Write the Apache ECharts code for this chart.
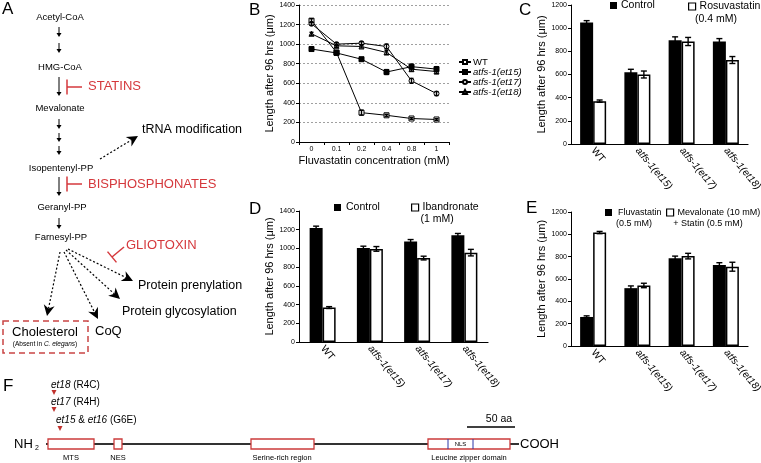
<!DOCTYPE html>
<html><head><meta charset="utf-8">
<script src="https://cdn.jsdelivr.net/npm/echarts@6/dist/echarts.min.js"></script>
<style>html,body{margin:0;padding:0;background:#fff}#c{width:761px;height:463px}</style>
</head><body><div id="c"></div>
<script>
const FONT = '"Liberation Sans", Arial, Helvetica, sans-serif';
const RED = '#d5383c';

// ---- Panel B (line chart) ----
const concentrations = ['0', '0.1', '0.2', '0.4', '0.8', '1'];
const bNames = ['WT', 'atfs-1(et15)', 'atfs-1(et17)', 'atfs-1(et18)'];
const lineWT   = [1240, 915, 300, 273, 240, 230];
const lineEt15 = [950, 910, 846, 715, 770, 745];
const lineEt17 = [1208, 1000, 1010, 976, 625, 495];
const lineEt18 = [1106, 983, 976, 915, 744, 720];
const errWT   = [20, 15, 25, 10, 8, 8];
const errEt15 = [15, 15, 15, 25, 25, 25];
const errEt17 = [15, 15, 15, 25, 25, 20];
const errEt18 = [15, 15, 15, 20, 20, 20];
const bTicks = [0, 1400, 200];

// ---- Bar panels ----
const strains = ['WT', 'atfs-1(et15)', 'atfs-1(et17)', 'atfs-1(et18)'];
const cControl = [1050, 620, 895, 885];
const cControlErr = [15, 25, 30, 25];
const cRosu = [370, 600, 885, 725];
const cRosuErr = [10, 30, 35, 30];
const cTicks = [0, 1200, 200];

const dControl = [1218, 1004, 1075, 1140];
const dControlErr = [20, 20, 20, 20];
const dIban = [368, 995, 897, 955];
const dIbanErr = [10, 25, 20, 35];
const dTicks = [0, 1400, 200];

const eFluva = [260, 518, 785, 726];
const eFluvaErr = [10, 20, 20, 20];
const eMeva = [1016, 542, 805, 710];
const eMevaErr = [10, 20, 25, 40];
const eTicks = [0, 1200, 200];

const yTitle = 'Length after 96 hrs (\u03bcm)';

function yAxisCfg(gi, t, gap, grid) {
  return {
    type: 'value', gridIndex: gi, min: t[0], max: t[1], interval: t[2],
    name: yTitle, nameLocation: 'middle', nameGap: gap, nameRotate: 90,
    nameTextStyle: { fontFamily: FONT, fontSize: 11, color: '#000' },
    axisLine: { show: true, lineStyle: { color: '#000', width: 1 } },
    axisTick: { show: true, length: 3, lineStyle: { color: '#000' } },
    axisLabel: { fontFamily: FONT, fontSize: 7, color: '#000', margin: 4, formatter: v => String(v) },
    splitLine: grid ? { show: true, lineStyle: { color: '#888', type: [2, 2], width: 0.8 } } : { show: false }
  };
}
function xBarAxis(gi) {
  return {
    type: 'category', gridIndex: gi, data: strains,
    axisLine: { lineStyle: { color: '#000', width: 1.2 } },
    axisTick: { show: false },
    axisLabel: {
      fontFamily: FONT, fontSize: 10, color: '#000', rotate: -50, margin: 5, interval: 0,
      formatter: v => v === 'WT' ? v : '{i|' + v + '}',
      rich: { i: { fontStyle: 'italic', fontFamily: FONT, fontSize: 10, color: '#000' } }
    }
  };
}
function errSeries(ai, vals, errs, off, capW) {
  return {
    type: 'custom', xAxisIndex: ai, yAxisIndex: ai, z: 10, silent: true,
    data: vals.map((v, i) => [i, v, errs[i]]),
    renderItem(params, api) {
      const i = api.value(0), v = api.value(1), e = api.value(2);
      const p1 = api.coord([i, v + e]), p2 = api.coord([i, v - e]);
      const x = p1[0] + off;
      const st = { stroke: '#000', lineWidth: 1.4 };
      return { type: 'group', children: [
        { type: 'line', shape: { x1: x, y1: p1[1], x2: x, y2: p2[1] }, style: st },
        { type: 'line', shape: { x1: x - capW, y1: p1[1], x2: x + capW, y2: p1[1] }, style: st },
        { type: 'line', shape: { x1: x - capW, y1: p2[1], x2: x + capW, y2: p2[1] }, style: st }
      ] };
    }
  };
}
function barSeries(name, ai, vals, white) {
  return {
    type: 'bar', name, xAxisIndex: ai, yAxisIndex: ai, data: vals,
    barWidth: 13, barGap: '0%',
    itemStyle: white ? { color: '#fff', borderColor: '#000', borderWidth: 1.5 } : { color: '#000' }
  };
}
function lineSeries(name, vals, symbol, fill) {
  return {
    type: 'line', name, xAxisIndex: 0, yAxisIndex: 0, data: vals,
    symbol, symbolSize: 5, showSymbol: true,
    lineStyle: { color: '#000', width: 1 },
    itemStyle: { color: fill, borderColor: '#000', borderWidth: 1 }
  };
}
function legendCfg(names, left, top, fs, pad) {
  return {
    data: names, left, top, orient: 'horizontal', icon: 'rect',
    itemWidth: 7, itemHeight: 7, itemGap: 4, padding: 0,
    itemStyle: { borderWidth: 1.2 },
    textStyle: { fontFamily: FONT, fontSize: fs, color: '#000', padding: [0, 0, 0, pad] },
    selectedMode: false
  };
}

// ---- graphic helpers (diagram panels A and F) ----
function T(x, y, s, fs, o) {
  o = o || {};
  return { type: 'text', x, y, silent: true, style: Object.assign({
    text: s, fontSize: fs, fontFamily: FONT, fill: o.fill || '#000',
    align: o.align || 'center', verticalAlign: o.va || 'middle',
    fontStyle: o.italic ? 'italic' : 'normal'
  }, o.rich ? { rich: o.rich } : {}) };
}
function L(x1, y1, x2, y2, o) {
  o = o || {};
  return { type: 'line', silent: true, shape: { x1, y1, x2, y2 },
    style: { stroke: o.stroke || '#000', lineWidth: o.lw || 1, lineDash: o.dash || null } };
}
function P(points, fill) {
  return { type: 'polygon', silent: true, shape: { points }, style: { fill: fill || '#000' } };
}
function R(x, y, w, h, o) {
  o = o || {};
  return { type: 'rect', silent: true, shape: { x, y, width: w, height: h },
    style: { fill: o.fill || '#fff', stroke: o.stroke || '#000', lineWidth: o.lw || 1, lineDash: o.dash || null } };
}
function arrow(x1, y1, x2, y2, o) {
  o = o || {};
  const hl = o.hl || 4, hw = o.hw || 2.5, notch = o.notch || 0;
  const dx = x2 - x1, dy = y2 - y1, len = Math.hypot(dx, dy);
  const ux = dx / len, uy = dy / len, px = -uy, py = ux;
  const bx = x2 - ux * hl, by = y2 - uy * hl;
  const nx = x2 - ux * hl * (1 - notch), ny = y2 - uy * hl * (1 - notch);
  return [
    L(x1, y1, nx, ny, { dash: o.dash, lw: o.lw || 1 }),
    P([[x2, y2], [bx + px * hw, by + py * hw], [nx, ny], [bx - px * hw, by - py * hw]])
  ];
}
function inhibit(x1, y1, x2, y2, h) {
  const dx = x2 - x1, dy = y2 - y1, len = Math.hypot(dx, dy);
  const px = -dy / len, py = dx / len;
  return [L(x1, y1, x2, y2, { stroke: RED, lw: 1.5 }),
          L(x2 + px * h, y2 + py * h, x2 - px * h, y2 - py * h, { stroke: RED, lw: 1.5 })];
}

const g = [];
// Panel letters
g.push(T(2, 9, 'A', 17, { align: 'left' }));
g.push(T(249, 10, 'B', 17, { align: 'left' }));
g.push(T(519, 10, 'C', 17, { align: 'left' }));
g.push(T(249, 209, 'D', 17, { align: 'left' }));
g.push(T(526, 208, 'E', 17, { align: 'left' }));
g.push(T(3, 386, 'F', 17, { align: 'left' }));

// Panel A pathway
const fsA = 9.5;
g.push(T(60, 17, 'Acetyl-CoA', fsA));
g.push(...arrow(59, 27, 59, 37), ...arrow(59, 43, 59, 53));
g.push(T(60, 67, 'HMG-CoA', fsA));
g.push(...arrow(59, 77, 59, 96));
g.push(...inhibit(82, 87, 67, 87, 7.5));
g.push(T(88, 86, 'STATINS', 13, { align: 'left', fill: RED }));
g.push(T(60, 108, 'Mevalonate', fsA));
g.push(...arrow(59, 119, 59, 129), ...arrow(59, 133, 59, 142), ...arrow(59, 146, 59, 155));
g.push(T(61, 168, 'Isopentenyl-PP', fsA));
g.push(...arrow(100, 159, 138, 136, { dash: [2, 2], hl: 11, hw: 5.5, notch: 0.3, lw: 1.2 }));
g.push(T(142, 130, 'tRNA modification', 12.5, { align: 'left' }));
g.push(...arrow(59, 177, 59, 196));
g.push(...inhibit(82, 184, 67, 184, 7.5));
g.push(T(88, 184, 'BISPHOSPHONATES', 13, { align: 'left', fill: RED }));
g.push(T(62, 207, 'Geranyl-PP', fsA));
g.push(...arrow(59, 218, 59, 229));
g.push(T(61, 237, 'Farnesyl-PP', fsA));
g.push(T(126, 245, 'GLIOTOXIN', 13, { align: 'left', fill: RED }));
g.push(...inhibit(124, 247, 112, 257, 7));
const dA = { dash: [2, 2], hl: 11, hw: 5.5, notch: 0.3, lw: 1.2 };
g.push(...arrow(60, 252, 47, 316, dA));
g.push(...arrow(64, 252, 98, 319, dA));
g.push(...arrow(66, 250, 120, 299, dA));
g.push(...arrow(68, 249, 133, 281, dA));
g.push(T(138, 286, 'Protein prenylation', 12.5, { align: 'left' }));
g.push(T(122, 312, 'Protein glycosylation', 12.5, { align: 'left' }));
g.push(T(95, 331, 'CoQ', 13, { align: 'left' }));
g.push(R(3, 321, 85, 32, { stroke: '#c94444', lw: 1.5, dash: [6, 4], fill: 'rgba(0,0,0,0)' }));
g.push(T(45, 332, 'Cholesterol', 13));
g.push(T(45, 344, '(Absent in {i|C. elegans})', 6.5, { rich: { i: { fontStyle: 'italic', fontSize: 6.5, fontFamily: FONT } } }));

// second-line texts of bar legends
g.push(T(716, 19, '(0.4 mM)', 10.5));
g.push(T(437, 219, '(1 mM)', 10.5));
g.push(T(616, 224, '(0.5 mM)', 9, { align: 'left' }));
g.push(T(708, 224, '+ Statin (0.5 mM)', 9));

// Panel F protein diagram
const mRich = { i: { fontStyle: 'italic', fontSize: 10, fontFamily: FONT } };
g.push(T(51, 385, '{i|et18} (R4C)', 10, { align: 'left', rich: mRich }));
g.push(P([[51.5, 390], [56.5, 390], [54, 395]], '#c0302c'));
g.push(T(51, 402, '{i|et17} (R4H)', 10, { align: 'left', rich: mRich }));
g.push(P([[51.5, 407], [56.5, 407], [54, 412]], '#c0302c'));
g.push(T(56, 420, '{i|et15} & {i|et16} (G6E)', 10, { align: 'left', rich: mRich }));
g.push(P([[57.5, 426], [62.5, 426], [60, 431]], '#c0302c'));
g.push(L(467, 427, 515, 427, { lw: 1.5 }));
g.push(T(499, 419, '50 aa', 10.5));
g.push(L(46, 444, 519, 444, { stroke: '#333', lw: 2 }));
const BOX = { stroke: '#cc3b3b', lw: 1.3 };
g.push(R(48, 439, 46, 10, BOX));
g.push(R(114, 439, 8, 10, BOX));
g.push(R(251, 439, 63, 10, BOX));
g.push(R(428, 439, 82, 10, BOX));
g.push(L(448, 439, 448, 449, { stroke: '#2a36a8', lw: 1 }));
g.push(L(473, 439, 473, 449, { stroke: '#2a36a8', lw: 1 }));
g.push(T(460.5, 444, 'NLS', 6));
g.push(T(14, 444, 'NH', 13, { align: 'left' }));
g.push(T(35, 448, '2', 7, { align: 'left' }));
g.push(T(520, 444, 'COOH', 13, { align: 'left' }));
g.push(T(71, 458, 'MTS', 7.5));
g.push(T(118, 458, 'NES', 7.5));
g.push(T(282, 458, 'Serine-rich region', 7.5));
g.push(T(469, 458, 'Leucine zipper domain', 7.5));

const option = {
  animation: false,
  backgroundColor: '#fff',
  textStyle: { fontFamily: FONT },
  grid: [
    { left: 299, top: 5, width: 150, height: 137, outerBoundsMode: 'none' },
    { left: 571, top: 5, width: 177, height: 139, outerBoundsMode: 'none' },
    { left: 299, top: 211, width: 189, height: 131, outerBoundsMode: 'none' },
    { left: 571, top: 212, width: 177, height: 134, outerBoundsMode: 'none' }
  ],
  xAxis: [
    {
      type: 'category', gridIndex: 0, data: concentrations,
      name: 'Fluvastatin concentration (mM)', nameLocation: 'middle', nameGap: 13,
      nameTextStyle: { fontFamily: FONT, fontSize: 11, color: '#000' },
      axisLine: { lineStyle: { color: '#000', width: 1.2 } },
      axisTick: { show: true, length: 3, lineStyle: { color: '#000' } },
      axisLabel: { fontFamily: FONT, fontSize: 7, color: '#000', margin: 4 }
    },
    xBarAxis(1), xBarAxis(2), xBarAxis(3)
  ],
  yAxis: [
    yAxisCfg(0, bTicks, 18, true),
    yAxisCfg(1, cTicks, 20, false),
    yAxisCfg(2, dTicks, 22, false),
    yAxisCfg(3, eTicks, 20, false)
  ],
  legend: [
    {
      data: bNames, left: 458, top: 57, orient: 'vertical', itemGap: 0, padding: 0,
      itemWidth: 12, itemHeight: 5, selectedMode: false,
      textStyle: { fontFamily: FONT, fontSize: 9.5, lineHeight: 9.5, color: '#000', padding: [0, 0, 0, -3],
        rich: { i: { fontStyle: 'italic', fontFamily: FONT, fontSize: 9.5, color: '#000' } } },
      formatter: n => n === 'WT' ? n : '{i|' + n + '}'
    },
    legendCfg(['Control'], 610, 0, 10.5, -1),
    legendCfg(['Rosuvastatin'], 688, 1, 10.5, -1),
    legendCfg(['Control '], 334, 202, 10.5, 0),
    legendCfg(['Ibandronate'], 411, 202, 10.5, -1),
    legendCfg(['Fluvastatin'], 605, 208, 9, 1),
    legendCfg(['Mevalonate (10 mM)'], 666, 208, 9, -1)
  ],
  series: [
    lineSeries('WT', lineWT, 'rect', '#fff'),
    lineSeries('atfs-1(et15)', lineEt15, 'rect', '#000'),
    lineSeries('atfs-1(et17)', lineEt17, 'circle', '#fff'),
    lineSeries('atfs-1(et18)', lineEt18, 'triangle', '#fff'),
    errSeries(0, lineWT, errWT, 0, 2),
    errSeries(0, lineEt15, errEt15, 0, 2),
    errSeries(0, lineEt17, errEt17, 0, 2),
    errSeries(0, lineEt18, errEt18, 0, 2),

    barSeries('Control', 1, cControl, false),
    barSeries('Rosuvastatin', 1, cRosu, true),
    errSeries(1, cControl, cControlErr, -6.5, 3),
    errSeries(1, cRosu, cRosuErr, 6.5, 3),

    barSeries('Control ', 2, dControl, false),
    barSeries('Ibandronate', 2, dIban, true),
    errSeries(2, dControl, dControlErr, -6.5, 3),
    errSeries(2, dIban, dIbanErr, 6.5, 3),

    barSeries('Fluvastatin', 3, eFluva, false),
    barSeries('Mevalonate (10 mM)', 3, eMeva, true),
    errSeries(3, eFluva, eFluvaErr, -6.5, 3),
    errSeries(3, eMeva, eMevaErr, 6.5, 3)
  ],
  graphic: g
};
const chart = echarts.init(document.getElementById('c'), null, { renderer: 'canvas' });
chart.setOption(option);
</script></body></html>
